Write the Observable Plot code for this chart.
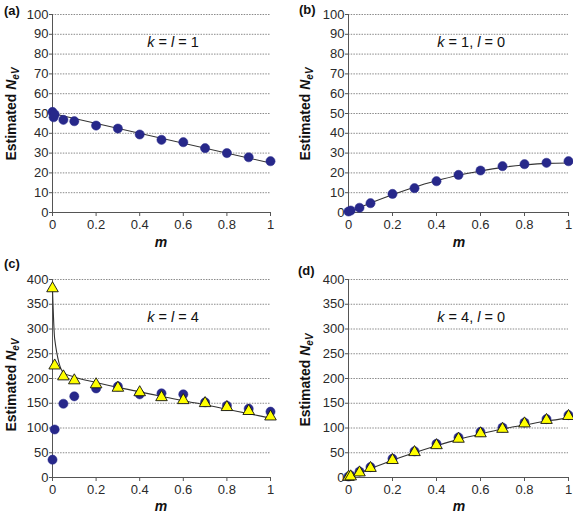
<!DOCTYPE html>
<html><head><meta charset="utf-8">
<script src="https://cdn.jsdelivr.net/npm/d3@7"></script>
<script src="https://cdn.jsdelivr.net/npm/@observablehq/plot@0.6"></script>
<style>
body{margin:0;background:#fff;}
#wrap{position:relative;width:573px;height:517px;font-family:"Liberation Sans",Arial,sans-serif;}
.panel{position:absolute;}
</style></head><body><div id="wrap"></div>
<script>
// ---- data ----
const mA = [0, 0.005, 0.01, 0.05, 0.1, 0.2, 0.3, 0.4, 0.5, 0.6, 0.7, 0.8, 0.9, 1];
const circlesA = [50.8, 48.1, 49.5, 46.8, 46.1, 43.9, 42.4, 39.4, 36.7, 35.5, 32.5, 30, 27.9, 25.9];
const lineMA = [0, 1];
const lineA = [50, 25];

const mB = [0, 0.01, 0.05, 0.1, 0.2, 0.3, 0.4, 0.5, 0.6, 0.7, 0.8, 0.9, 1];
const circlesB = [0.5, 1, 2.4, 4.7, 9.4, 12.3, 15.8, 19, 21.2, 23.4, 24.4, 25.1, 25.9];
const lineMB = [0, 0.1, 0.2, 0.3, 0.4, 0.5, 0.6, 0.7, 0.8, 0.9, 1];
const lineB = [0, 4.8, 9, 12.8, 16, 18.8, 21, 22.8, 24, 24.8, 25];

const mC = [0, 0.01, 0.05, 0.1, 0.2, 0.3, 0.4, 0.5, 0.6, 0.7, 0.8, 0.9, 1];
const circlesC = [36, 97, 149, 164, 180, 184, 168, 170, 168, 152, 145, 139, 133];
const trianglesC = [382, 226, 204, 196, 188, 181, 172, 162, 156, 150, 142, 134, 123];
const lineMC = [0, 0.01, 0.05, 0.1, 0.2, 0.3, 0.4, 0.5, 0.6, 0.7, 0.8, 0.9, 1];
const lineC = [380, 280, 212, 203, 192, 182, 173, 164, 155, 147, 138, 129, 120];

const mD = [0, 0.01, 0.05, 0.1, 0.2, 0.3, 0.4, 0.5, 0.6, 0.7, 0.8, 0.9, 1];
const circlesD = [2, 4, 12, 21, 38, 53, 68, 81, 92, 101, 111, 118, 126];
const trianglesD = [1, 2, 10, 19, 35, 51, 65, 78, 89, 98, 109, 116, 124];
const lineMD = [0, 0.1, 0.2, 0.3, 0.4, 0.5, 0.6, 0.7, 0.8, 0.9, 1];
const lineD = [0, 18, 35, 50, 64, 77, 88, 98, 106, 114, 120];

const xTicks = [0, 0.2, 0.4, 0.6, 0.8, 1];
const yTicksTop = [0, 10, 20, 30, 40, 50, 60, 70, 80, 90, 100];
const yTicksBottom = [0, 50, 100, 150, 200, 250, 300, 350, 400];
const panelLetters = ["(a)", "(b)", "(c)", "(d)"];
const annotations = [
  [["k", true], [" = ", false], ["l", true], [" = 1", false]],
  [["k", true], [" = 1, ", false], ["l", true], [" = 0", false]],
  [["k", true], [" = ", false], ["l", true], [" = 4", false]],
  [["k", true], [" = 4, ", false], ["l", true], [" = 0", false]]
];

const zip = (xs, ys) => xs.map((x, i) => ({m: x, v: ys[i]}));

const CIRCLE = "#27288a";
const TRI = "#ffff00";

// ---- layout ----
const panels = [
  {left: 0, top: 0, width: 286, height: 258, ml: 52, mr: 16, mt: 14, mb: 46,
   yDomain: [0, 100], yTicks: yTicksTop, circles: zip(mA, circlesA), triangles: null, line: zip(lineMA, lineA),
   letter: [4, 15], ylab: [12, 114], xlab: [161, 243], ann: [0.555, 85.4]},
  {left: 286, top: 0, width: 287, height: 258, ml: 62, mr: 5, mt: 14, mb: 46,
   yDomain: [0, 100], yTicks: yTicksTop, circles: zip(mB, circlesB), triangles: null, line: zip(lineMB, lineB),
   letter: [13, 14], ylab: [20, 114], xlab: [173, 243], ann: [0.56, 85.4]},
  {left: 0, top: 258, width: 286, height: 259, ml: 52, mr: 16, mt: 21, mb: 40,
   yDomain: [0, 400], yTicks: yTicksBottom, circles: zip(mC, circlesC), triangles: zip(mC, trianglesC), line: zip(lineMC, lineC),
   letter: [4, 10], ylab: [12, 127], xlab: [161, 249], ann: [0.555, 321]},
  {left: 286, top: 258, width: 287, height: 259, ml: 62, mr: 5, mt: 21, mb: 40,
   yDomain: [0, 400], yTicks: yTicksBottom, circles: zip(mD, circlesD), triangles: zip(mD, trianglesD), line: zip(lineMD, lineD),
   letter: [12, 17], ylab: [20, 122], xlab: [173, 249], ann: [0.56, 321]}
];

const wrap = document.getElementById("wrap");

panels.forEach((p, idx) => {
  const marks = [
    Plot.gridY(p.yTicks.filter(d => d !== 0), {stroke: "#8a8a8a", strokeOpacity: 1, strokeWidth: 1, strokeDasharray: "1.5,1.2"}),
    Plot.axisY(p.yTicks, {tickSize: 3, tickPadding: 1, fontSize: 13, stroke: "#555", fill: "#2a2a2a", label: null}),
    Plot.axisX(xTicks, {tickSize: 4, tickPadding: 3, fontSize: 13, stroke: "#555", fill: "#2a2a2a", label: null,
      tickFormat: d => String(d)}),
    Plot.ruleY([0], {stroke: "#555", strokeWidth: 1}),
    Plot.ruleX([0], {stroke: "#555", strokeWidth: 1}),
    Plot.line(p.line, {x: "m", y: "v", stroke: "#333", strokeWidth: 1.1, curve: "monotone-x"}),
    Plot.dot(p.circles, {x: "m", y: "v", r: 4.6, fill: CIRCLE, stroke: CIRCLE, strokeWidth: 0.5})
  ];
  if (p.triangles) {
    marks.push(Plot.dot(p.triangles, {x: "m", y: "v", symbol: "triangle", r: 4.3, fill: TRI, stroke: "#111", strokeWidth: 0.9}));
  }
  const plot = Plot.plot({
    width: p.width, height: p.height,
    marginLeft: p.ml, marginRight: p.mr, marginTop: p.mt, marginBottom: p.mb,
    x: {domain: [0, 1]},
    y: {domain: p.yDomain},
    style: {fontFamily: "'Liberation Sans', Arial, sans-serif", fontSize: "13px", background: "transparent", overflow: "visible"},
    marks
  });
  const div = document.createElement("div");
  div.className = "panel";
  div.style.left = p.left + "px";
  div.style.top = p.top + "px";
  div.appendChild(plot);
  wrap.appendChild(div);

  const svg = d3.select(plot);
  const sx = plot.scale("x"), sy = plot.scale("y");
  const ff = "'Liberation Sans', Arial, sans-serif";

  // panel letter
  svg.append("text").attr("x", p.letter[0]).attr("y", p.letter[1])
    .attr("text-anchor", "start")
    .attr("font-family", ff).attr("font-size", 13).attr("font-weight", "bold").attr("fill", "#111")
    .text(panelLetters[idx]);

  // y label
  const yl = svg.append("text")
    .attr("transform", `translate(${p.ylab[0]},${p.ylab[1]}) rotate(-90)`)
    .attr("text-anchor", "middle").attr("dominant-baseline", "middle")
    .attr("font-family", ff).attr("font-size", 14).attr("font-weight", "bold").attr("fill", "#111");
  yl.append("tspan").text("Estimated ");
  yl.append("tspan").attr("font-style", "italic").text("N");
  yl.append("tspan").attr("font-style", "italic").attr("font-size", 10).attr("dy", "0.35em").text("eV");

  // x label
  svg.append("text").attr("x", p.xlab[0]).attr("y", p.xlab[1])
    .attr("text-anchor", "middle").attr("dominant-baseline", "middle")
    .attr("font-family", ff).attr("font-size", 14).attr("font-weight", "bold").attr("font-style", "italic").attr("fill", "#111")
    .text("m");

  // annotation
  const at = svg.append("text").attr("x", sx.apply(p.ann[0])).attr("y", sy.apply(p.ann[1]))
    .attr("text-anchor", "middle").attr("dominant-baseline", "middle")
    .attr("font-family", ff).attr("font-size", 14.5).attr("fill", "#111");
  annotations[idx].forEach(([t, it]) => {
    const ts = at.append("tspan").text(t);
    if (it) ts.attr("font-style", "italic");
  });
});
</script>
</body></html>
